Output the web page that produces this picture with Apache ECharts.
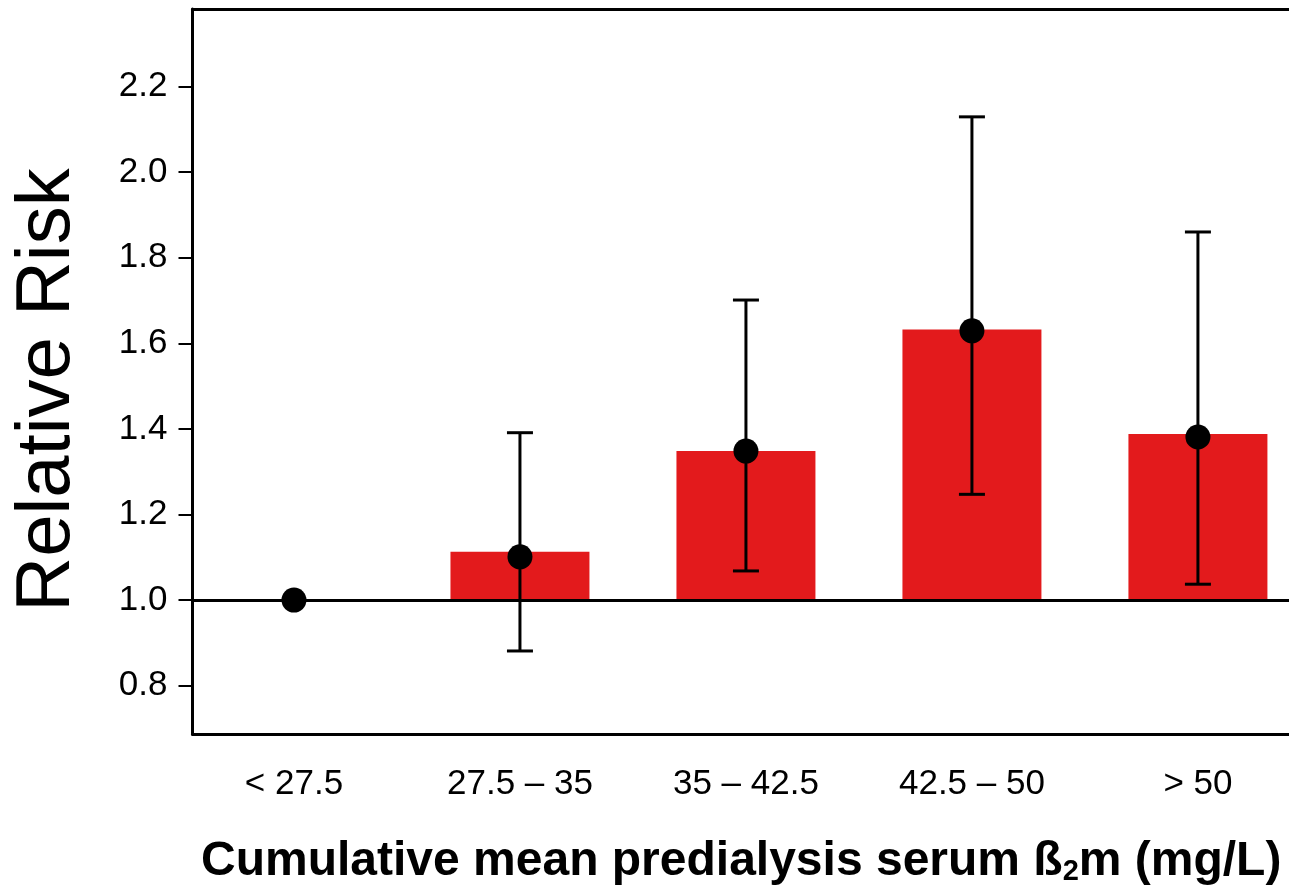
<!DOCTYPE html>
<html>
<head>
<meta charset="utf-8">
<script src="https://cdn.jsdelivr.net/npm/echarts@6/dist/echarts.min.js"></script>
<style>html,body{margin:0;padding:0;background:#fff}#c{width:1289px;height:891px}</style>
</head>
<body>
<div id="c"></div>
<script>
const categories = ['< 27.5', '27.5 – 35', '35 – 42.5', '42.5 – 50', '> 50'];
const barValues = [null, 1.113, 1.348, 1.632, 1.388];
const pointValues = [1.0, 1.101, 1.348, 1.629, 1.381];
const upperCI = [null, 1.391, 1.701, 2.129, 1.86];
const lowerCI = [null, 0.881, 1.068, 1.247, 1.037];
const yTicks = [0.8, 1.0, 1.2, 1.4, 1.6, 1.8, 2.0, 2.2];
const baseline = 1.0;

const FONT = '"Liberation Sans", Arial, Helvetica, sans-serif';
const chart = echarts.init(document.getElementById('c'), null, {renderer: 'canvas'});

const idx = categories.map((c, i) => i);
const barData = idx.filter(i => barValues[i] != null).map(i => [i, barValues[i]]);
const errData = idx.filter(i => upperCI[i] != null).map(i => [i, lowerCI[i], upperCI[i]]);
const ptData = idx.map(i => [i, pointValues[i]]);

const frameLine = {show: true, onZero: false, lineStyle: {color: '#000', width: 3}};

chart.setOption({
  animation: false,
  backgroundColor: '#fff',
  grid: {left: 192.5, top: 9, right: 0, bottom: 157, show: false},
  title: {
    left: 196, top: 833,
    text: '{a|Cumulative mean predialysis serum ß}{s|2}{a|m (mg/L)}',
    textStyle: {
      rich: {
        a: {fontFamily: FONT, fontWeight: 'bold', fontSize: 48, color: '#000'},
        s: {fontFamily: FONT, fontWeight: 'bold', fontSize: 29, color: '#000', verticalAlign: 'bottom', padding: [16, 0, 0, 0]}
      }
    }
  },
  xAxis: [{
    type: 'value', min: -0.449, max: 4.403, position: 'bottom',
    splitLine: {show: false},
    axisLine: frameLine,
    axisTick: {show: false},
    axisLabel: {
      customValues: idx,
      formatter: v => categories[Math.round(v)] || '',
      fontFamily: FONT, fontSize: 35, color: '#000', margin: 33
    }
  }, {
    type: 'value', min: -0.449, max: 4.403, position: 'top',
    splitLine: {show: false},
    axisLine: frameLine,
    axisTick: {show: false},
    axisLabel: {show: false}
  }],
  yAxis: {
    type: 'value', min: 0.687, max: 2.381,
    splitLine: {show: false},
    axisLine: frameLine,
    axisTick: {show: true, customValues: yTicks, length: 14, inside: false, lineStyle: {color: '#000', width: 2}},
    axisLabel: {
      customValues: yTicks,
      formatter: v => v.toFixed(1),
      fontFamily: FONT, fontSize: 35, color: '#000', margin: 25
    }
  },
  graphic: [{
    type: 'text', x: 48, y: 390, rotation: Math.PI / 2,
    style: {text: 'Relative Risk', fontFamily: FONT, fontSize: 76, fill: '#000', textAlign: 'center', textVerticalAlign: 'middle'}
  }],
  series: [
    {
      type: 'custom', z: 2,
      data: barData,
      renderItem: function (params, api) {
        const x = api.value(0), v = api.value(1);
        const top = api.coord([x, v]);
        const base = api.coord([x, baseline]);
        const w = api.size([1, 0])[0] * 0.615;
        return {type: 'rect', shape: {x: top[0] - w / 2, y: top[1], width: w, height: base[1] - top[1]}, style: {fill: '#E31A1C'}};
      },
      markLine: {
        silent: true, symbol: 'none', z: 3,
        lineStyle: {color: '#000', width: 3, type: 'solid'},
        label: {show: false},
        data: [{yAxis: baseline}]
      }
    },
    {
      type: 'custom', z: 4,
      data: errData,
      renderItem: function (params, api) {
        const x = api.value(0);
        const lo = api.coord([x, api.value(1)]);
        const hi = api.coord([x, api.value(2)]);
        const cw = 13;
        const st = {stroke: '#000', lineWidth: 3};
        return {type: 'group', children: [
          {type: 'line', shape: {x1: lo[0], y1: lo[1], x2: hi[0], y2: hi[1]}, style: st},
          {type: 'line', shape: {x1: hi[0] - cw, y1: hi[1], x2: hi[0] + cw, y2: hi[1]}, style: st},
          {type: 'line', shape: {x1: lo[0] - cw, y1: lo[1], x2: lo[0] + cw, y2: lo[1]}, style: st}
        ]};
      }
    },
    {
      type: 'scatter', z: 5,
      data: ptData,
      symbol: 'circle', symbolSize: 25,
      itemStyle: {color: '#000', opacity: 1}
    }
  ]
});
</script>
</body>
</html>
